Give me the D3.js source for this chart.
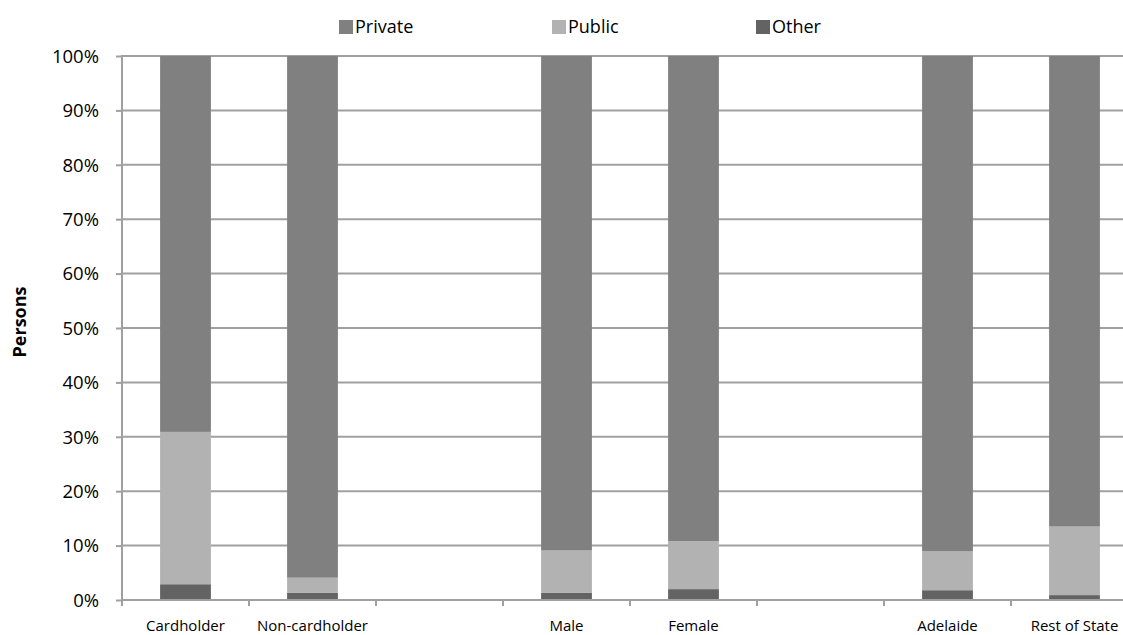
<!DOCTYPE html>
<html><head><meta charset="utf-8">
<script src="https://cdn.jsdelivr.net/npm/d3@7"></script>
<style>body{margin:0;background:#fff}svg{display:block;font-family:"Open Sans",sans-serif}</style>
</head><body>
<svg id="c" width="1123" height="635"></svg>
<script>
const categories = ["Cardholder","Non-cardholder","gap1","Male","Female","gap2","Adelaide","Rest of State"];
const categoryLabels = ["Cardholder","Non-cardholder","","Male","Female","","Adelaide","Rest of State"];
const seriesNames = ["Other","Public","Private"];
const otherValues   = [2.9, 1.3, null, 1.3, 2.0, null, 1.8, 0.9];
const publicValues  = [28.0, 2.8, null, 7.8, 8.8, null, 7.2, 12.6];
const privateValues = [69.1, 95.9, null, 90.9, 89.2, null, 91.0, 86.5];
const yTicks = [0,10,20,30,40,50,60,70,80,90,100];
const legendOrder = ["Private","Public","Other"];
const colors = {Private:"#808080", Public:"#b2b2b2", Other:"#636363"};

(function(){
const svg = d3.select("#c");
const pL = 122, pR = 1138, pT = 56, pB = 600;
const x = d3.scaleBand().domain(categories).range([pL, pR]).paddingInner(0.6).paddingOuter(0.3);
const xCell = d3.scaleBand().domain(categories).range([pL, pR]).padding(0);
const y = d3.scaleLinear().domain([0,100]).range([pB, pT]);
const gridColor = "#a0a0a0";

// gridlines
svg.append("g").selectAll("line").data(yTicks.filter(d=>d>0)).join("line")
  .attr("x1", pL).attr("x2", pR).attr("y1", d=>y(d)).attr("y2", d=>y(d))
  .attr("stroke", gridColor).attr("stroke-width", 2);

// stacked bars
const rows = categories.map((c,i)=>({cat:c, Other:otherValues[i], Public:publicValues[i], Private:privateValues[i]}))
  .filter(r=>r.Other!==null);
const stack = d3.stack().keys(seriesNames)(rows);
svg.append("g").selectAll("g").data(stack).join("g").attr("fill", s=>colors[s.key])
  .selectAll("rect").data(s=>s).join("rect")
  .attr("x", d=>x(d.data.cat)).attr("width", x.bandwidth())
  .attr("y", d=>y(d[1])).attr("height", d=>y(d[0])-y(d[1]));

// y axis
const yAxis = svg.append("g").attr("transform", `translate(${pL},0)`)
  .call(d3.axisLeft(y).tickValues(yTicks).tickFormat(d=>d+"%").tickSize(6).tickPadding(17));
yAxis.select(".domain").attr("stroke", gridColor).attr("stroke-width", 2).attr("d", `M0,${pT-1}V${pB+1}`);
yAxis.selectAll(".tick line").attr("stroke", gridColor).attr("stroke-width", 2);
yAxis.selectAll(".tick text").attr("font-size", 18.5).attr("fill", "#000").attr("font-family", "Open Sans").attr("dy", "0.34em");

// x axis
const xAxis = svg.append("g").attr("transform", `translate(0,${pB})`);
xAxis.append("line").attr("x1", pL).attr("x2", pR).attr("stroke", gridColor).attr("stroke-width", 2);
const tickPositions = categories.map(c=>xCell(c)).concat([pR]);
xAxis.selectAll("line.t").data(tickPositions).join("line").attr("class","t")
  .attr("x1", d=>d).attr("x2", d=>d).attr("y1", 0).attr("y2", 6)
  .attr("stroke", gridColor).attr("stroke-width", 2);
xAxis.selectAll("text").data(categories).join("text")
  .attr("x", c=>x(c)+x.bandwidth()/2).attr("y", 31)
  .attr("text-anchor","middle").attr("font-size", 15).attr("fill","#000")
  .text((c,i)=>categoryLabels[i]);

// y title
svg.append("text").attr("transform", "translate(26,322) rotate(-90)")
  .attr("text-anchor","middle").attr("font-size", 18).attr("font-weight","bold").attr("fill","#000")
  .text("Persons");

// legend
const legendX = d3.scaleOrdinal().domain(legendOrder).range([339, 552, 756]);
const lg = svg.append("g").selectAll("g").data(legendOrder).join("g")
  .attr("transform", d=>`translate(${legendX(d)},20)`);
lg.append("rect").attr("width", 14).attr("height", 14).attr("fill", d=>colors[d]);
lg.append("text").attr("x", 16).attr("y", 13).attr("font-size", 18).attr("fill","#000").text(d=>d);
})();
</script>
</body></html>
